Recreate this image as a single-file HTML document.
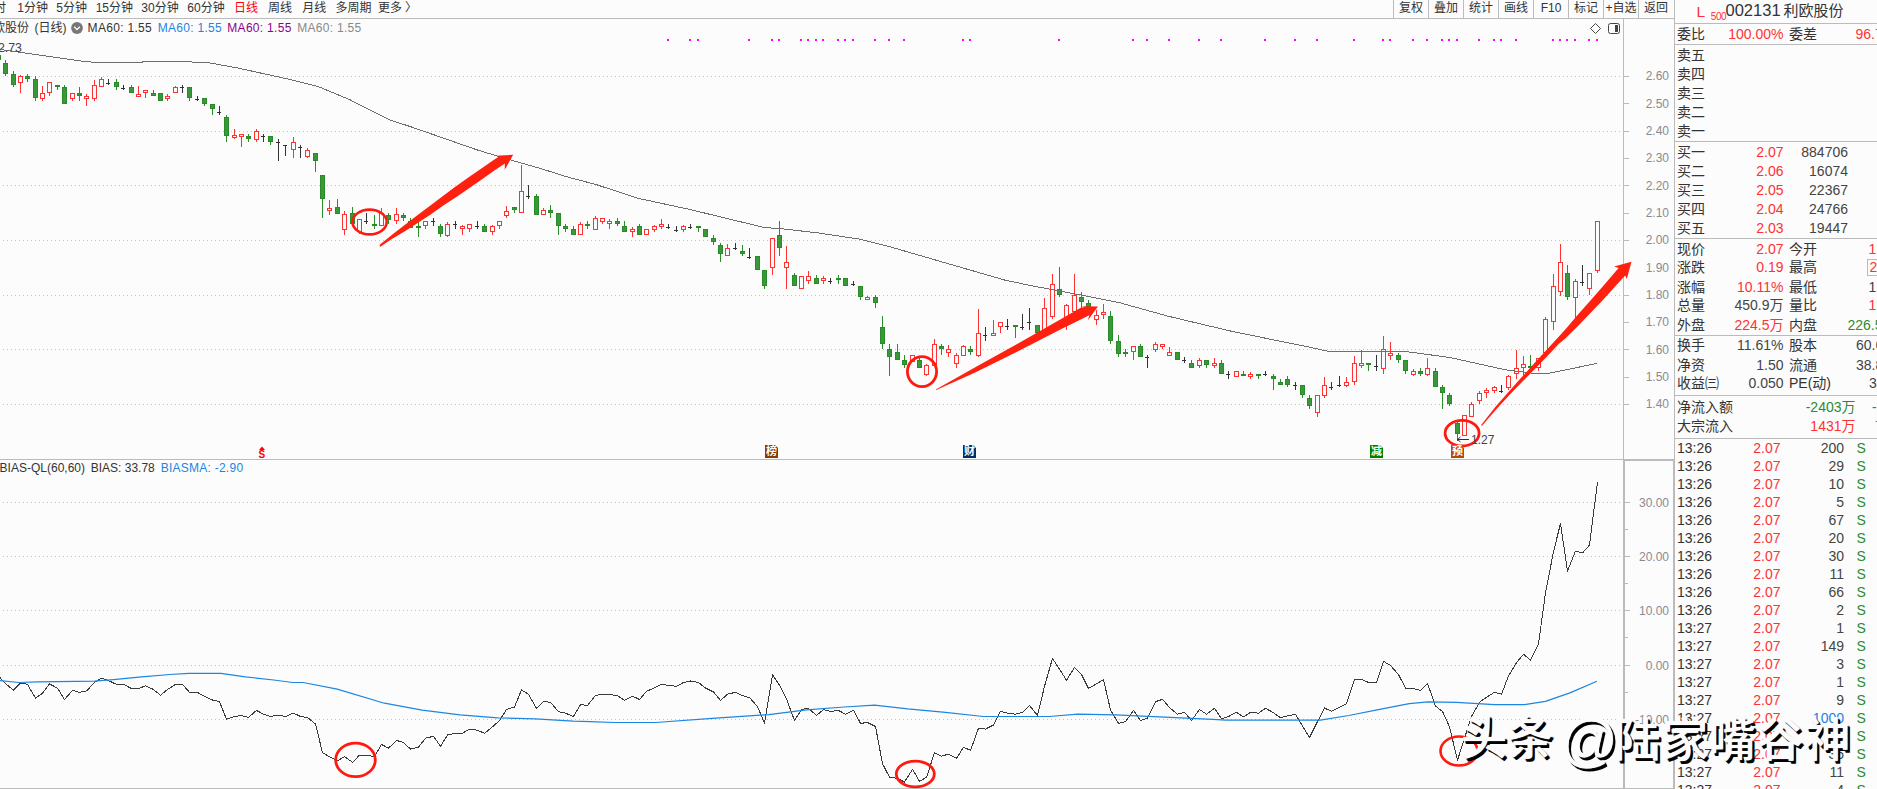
<!DOCTYPE html>
<html><head><meta charset="utf-8"><title>利欧股份 日线</title>
<style>
html,body{margin:0;padding:0;}
body{width:1877px;height:789px;overflow:hidden;background:#fcfcfc;position:relative;font-family:"Liberation Sans","Noto Sans CJK SC",sans-serif;color:#333;}
.t{position:absolute;white-space:nowrap;line-height:1;}
.f12{font-size:12px;}
.f14{font-size:14px;}
.r{color:#ff3232;}
.g{color:#2e8b2e;}
.b{color:#1c7fe0;}
.num{color:#444;}
.ra{text-align:right;}
.vl{position:absolute;background:#bbbbbb;}
.ic{position:absolute;width:13px;height:13px;clip-path:polygon(0 0,10px 0,13px 3px,13px 13px,0 13px);font-weight:bold;color:#fff;font-size:11px;line-height:13px;text-align:center;overflow:hidden;}
</style></head><body>

<svg width="1674" height="789" viewBox="0 0 1674 789" style="position:absolute;left:0;top:0"><line x1="3" y1="76.5" x2="1624" y2="76.5" stroke="#c4c4c4" stroke-width="1" stroke-dasharray="1 3"/>
<line x1="3" y1="131.5" x2="1624" y2="131.5" stroke="#c4c4c4" stroke-width="1" stroke-dasharray="1 3"/>
<line x1="3" y1="185.5" x2="1624" y2="185.5" stroke="#c4c4c4" stroke-width="1" stroke-dasharray="1 3"/>
<line x1="3" y1="240.5" x2="1624" y2="240.5" stroke="#c4c4c4" stroke-width="1" stroke-dasharray="1 3"/>
<line x1="3" y1="295.5" x2="1624" y2="295.5" stroke="#c4c4c4" stroke-width="1" stroke-dasharray="1 3"/>
<line x1="3" y1="349.5" x2="1624" y2="349.5" stroke="#c4c4c4" stroke-width="1" stroke-dasharray="1 3"/>
<line x1="3" y1="404.5" x2="1624" y2="404.5" stroke="#c4c4c4" stroke-width="1" stroke-dasharray="1 3"/>
<line x1="3" y1="502.5" x2="1624" y2="502.5" stroke="#c4c4c4" stroke-width="1" stroke-dasharray="1 3"/>
<line x1="3" y1="556.5" x2="1624" y2="556.5" stroke="#c4c4c4" stroke-width="1" stroke-dasharray="1 3"/>
<line x1="3" y1="610.5" x2="1624" y2="610.5" stroke="#c4c4c4" stroke-width="1" stroke-dasharray="1 3"/>
<line x1="3" y1="665.5" x2="1624" y2="665.5" stroke="#c4c4c4" stroke-width="1" stroke-dasharray="1 3"/>
<line x1="3" y1="719.5" x2="1624" y2="719.5" stroke="#c4c4c4" stroke-width="1" stroke-dasharray="1 3"/>
<g shape-rendering="crispEdges"><rect x="-2" y="53" width="1" height="7" fill="#2a8e2a"/><rect x="-4" y="55" width="5" height="5" fill="#278c27"/><rect x="-3" y="56" width="3" height="3" fill="#3a973a"/><rect x="5" y="60" width="1" height="16" fill="#2a8e2a"/><rect x="3" y="63" width="5" height="11" fill="#278c27"/><rect x="4" y="64" width="3" height="9" fill="#3a973a"/><rect x="13" y="71" width="1" height="16" fill="#2a8e2a"/><rect x="11" y="74" width="5" height="11" fill="#278c27"/><rect x="12" y="75" width="3" height="9" fill="#3a973a"/><rect x="20" y="75" width="1" height="18" fill="#ff3232"/><rect x="18.5" y="76.5" width="4" height="6" fill="#fcfcfc" stroke="#ff3232" stroke-width="1"/><rect x="27" y="74" width="1" height="8" fill="#2a8e2a"/><rect x="25" y="76" width="5" height="3" fill="#278c27"/><rect x="26" y="77" width="3" height="1" fill="#3a973a"/><rect x="35" y="76" width="1" height="25" fill="#2a8e2a"/><rect x="33" y="79" width="5" height="19" fill="#278c27"/><rect x="34" y="80" width="3" height="17" fill="#3a973a"/><rect x="42" y="86" width="1" height="15" fill="#ff3232"/><rect x="40.5" y="93.5" width="4" height="5" fill="#fcfcfc" stroke="#ff3232" stroke-width="1"/><rect x="49" y="82" width="1" height="14" fill="#ff3232"/><rect x="47.5" y="82.5" width="4" height="10" fill="#fcfcfc" stroke="#ff3232" stroke-width="1"/><rect x="57" y="85" width="1" height="5" fill="#2a8e2a"/><rect x="55" y="85" width="5" height="2" fill="#278c27"/><rect x="64" y="85" width="1" height="19" fill="#2a8e2a"/><rect x="62" y="87" width="5" height="17" fill="#278c27"/><rect x="63" y="88" width="3" height="15" fill="#3a973a"/><rect x="72" y="93" width="1" height="8" fill="#ff3232"/><rect x="70.5" y="93.5" width="4" height="5" fill="#fcfcfc" stroke="#ff3232" stroke-width="1"/><rect x="79" y="87" width="1" height="14" fill="#2a8e2a"/><rect x="77" y="93" width="5" height="3" fill="#278c27"/><rect x="78" y="94" width="3" height="1" fill="#3a973a"/><rect x="86" y="94" width="1" height="12" fill="#ff3232"/><rect x="84.5" y="96.5" width="4" height="2" fill="#fcfcfc" stroke="#ff3232" stroke-width="1"/><rect x="94" y="80" width="1" height="21" fill="#ff3232"/><rect x="92.5" y="85.5" width="4" height="13" fill="#fcfcfc" stroke="#ff3232" stroke-width="1"/><rect x="101" y="77" width="1" height="10" fill="#ff3232"/><rect x="99.5" y="79.5" width="4" height="7" fill="#fcfcfc" stroke="#ff3232" stroke-width="1"/><rect x="108" y="79" width="1" height="6" fill="#333333"/><rect x="106" y="83" width="4" height="1" fill="#333333"/><rect x="116" y="79" width="1" height="11" fill="#2a8e2a"/><rect x="114" y="82" width="5" height="5" fill="#278c27"/><rect x="115" y="83" width="3" height="3" fill="#3a973a"/><rect x="123" y="85" width="1" height="5" fill="#333333"/><rect x="121" y="88" width="4" height="1" fill="#333333"/><rect x="131" y="85" width="1" height="8" fill="#2a8e2a"/><rect x="129" y="87" width="5" height="6" fill="#278c27"/><rect x="130" y="88" width="3" height="4" fill="#3a973a"/><rect x="138" y="86" width="1" height="10" fill="#ff3232"/><rect x="136.5" y="94.5" width="4" height="2" fill="#fcfcfc" stroke="#ff3232" stroke-width="1"/><rect x="145" y="90" width="1" height="8" fill="#ff3232"/><rect x="143.5" y="90.5" width="4" height="2" fill="#fcfcfc" stroke="#ff3232" stroke-width="1"/><rect x="153" y="90" width="1" height="6" fill="#2a8e2a"/><rect x="151" y="93" width="5" height="3" fill="#278c27"/><rect x="152" y="94" width="3" height="1" fill="#3a973a"/><rect x="160" y="93" width="1" height="8" fill="#2a8e2a"/><rect x="158" y="93" width="5" height="8" fill="#278c27"/><rect x="159" y="94" width="3" height="6" fill="#3a973a"/><rect x="167" y="94" width="1" height="7" fill="#ff3232"/><rect x="165.5" y="96.5" width="4" height="2" fill="#fcfcfc" stroke="#ff3232" stroke-width="1"/><rect x="175" y="86" width="1" height="7" fill="#ff3232"/><rect x="173.5" y="87.5" width="4" height="5" fill="#fcfcfc" stroke="#ff3232" stroke-width="1"/><rect x="182" y="85" width="1" height="8" fill="#333333"/><rect x="180" y="87" width="4" height="1" fill="#333333"/><rect x="189" y="87" width="1" height="14" fill="#2a8e2a"/><rect x="187" y="87" width="5" height="11" fill="#278c27"/><rect x="188" y="88" width="3" height="9" fill="#3a973a"/><rect x="197" y="96" width="1" height="5" fill="#333333"/><rect x="195" y="99" width="4" height="1" fill="#333333"/><rect x="204" y="98" width="1" height="8" fill="#2a8e2a"/><rect x="202" y="98" width="5" height="6" fill="#278c27"/><rect x="203" y="99" width="3" height="4" fill="#3a973a"/><rect x="212" y="104" width="1" height="11" fill="#2a8e2a"/><rect x="210" y="104" width="5" height="5" fill="#278c27"/><rect x="211" y="105" width="3" height="3" fill="#3a973a"/><rect x="219" y="106" width="1" height="9" fill="#333333"/><rect x="217" y="112" width="4" height="1" fill="#333333"/><rect x="226" y="115" width="1" height="27" fill="#2a8e2a"/><rect x="224" y="117" width="5" height="19" fill="#278c27"/><rect x="225" y="118" width="3" height="17" fill="#3a973a"/><rect x="234" y="129" width="1" height="10" fill="#ff3232"/><rect x="232.5" y="135.5" width="4" height="2" fill="#fcfcfc" stroke="#ff3232" stroke-width="1"/><rect x="241" y="134" width="1" height="13" fill="#ff3232"/><rect x="239.5" y="134.5" width="4" height="2" fill="#fcfcfc" stroke="#ff3232" stroke-width="1"/><rect x="248" y="134" width="1" height="8" fill="#2a8e2a"/><rect x="246" y="136" width="5" height="3" fill="#278c27"/><rect x="247" y="137" width="3" height="1" fill="#3a973a"/><rect x="256" y="129" width="1" height="13" fill="#ff3232"/><rect x="254.5" y="131.5" width="4" height="8" fill="#fcfcfc" stroke="#ff3232" stroke-width="1"/><rect x="263" y="134" width="1" height="8" fill="#333333"/><rect x="261" y="136" width="4" height="1" fill="#333333"/><rect x="270" y="136" width="1" height="9" fill="#2a8e2a"/><rect x="268" y="136" width="5" height="6" fill="#278c27"/><rect x="269" y="137" width="3" height="4" fill="#3a973a"/><rect x="278" y="139" width="1" height="22" fill="#333333"/><rect x="276" y="142" width="4" height="1" fill="#333333"/><rect x="285" y="145" width="1" height="11" fill="#333333"/><rect x="283" y="145" width="4" height="1" fill="#333333"/><rect x="293" y="137" width="1" height="21" fill="#ff3232"/><rect x="291.5" y="142.5" width="4" height="7" fill="#fcfcfc" stroke="#ff3232" stroke-width="1"/><rect x="300" y="145" width="1" height="13" fill="#333333"/><rect x="298" y="147" width="4" height="1" fill="#333333"/><rect x="307" y="148" width="1" height="10" fill="#ff3232"/><rect x="305.5" y="150.5" width="4" height="6" fill="#fcfcfc" stroke="#ff3232" stroke-width="1"/><rect x="315" y="153" width="1" height="19" fill="#2a8e2a"/><rect x="313" y="153" width="5" height="8" fill="#278c27"/><rect x="314" y="154" width="3" height="6" fill="#3a973a"/><rect x="322" y="175" width="1" height="43" fill="#2a8e2a"/><rect x="320" y="175" width="5" height="24" fill="#278c27"/><rect x="321" y="176" width="3" height="22" fill="#3a973a"/><rect x="329" y="200" width="1" height="15" fill="#ff3232"/><rect x="327.5" y="208.5" width="4" height="2" fill="#fcfcfc" stroke="#ff3232" stroke-width="1"/><rect x="337" y="199" width="1" height="15" fill="#2a8e2a"/><rect x="335" y="207" width="5" height="7" fill="#278c27"/><rect x="336" y="208" width="3" height="5" fill="#3a973a"/><rect x="344" y="211" width="1" height="24" fill="#ff3232"/><rect x="342.5" y="214.5" width="4" height="15" fill="#fcfcfc" stroke="#ff3232" stroke-width="1"/><rect x="352" y="207" width="1" height="17" fill="#2a8e2a"/><rect x="350" y="213" width="5" height="11" fill="#278c27"/><rect x="351" y="214" width="3" height="9" fill="#3a973a"/><rect x="359" y="219" width="1" height="15" fill="#ff3232"/><rect x="357.5" y="219.5" width="4" height="12" fill="#fcfcfc" stroke="#ff3232" stroke-width="1"/><rect x="366" y="213" width="1" height="11" fill="#333333"/><rect x="364" y="221" width="4" height="1" fill="#333333"/><rect x="374" y="215" width="1" height="14" fill="#2a8e2a"/><rect x="372" y="224" width="5" height="2" fill="#278c27"/><rect x="381" y="208" width="1" height="18" fill="#ff3232"/><rect x="379.5" y="213.5" width="4" height="12" fill="#fcfcfc" stroke="#ff3232" stroke-width="1"/><rect x="388" y="213" width="1" height="11" fill="#2a8e2a"/><rect x="386" y="215" width="5" height="5" fill="#278c27"/><rect x="387" y="216" width="3" height="3" fill="#3a973a"/><rect x="396" y="208" width="1" height="16" fill="#ff3232"/><rect x="394.5" y="214.5" width="4" height="6" fill="#fcfcfc" stroke="#ff3232" stroke-width="1"/><rect x="403" y="213" width="1" height="8" fill="#2a8e2a"/><rect x="401" y="215" width="5" height="3" fill="#278c27"/><rect x="402" y="216" width="3" height="1" fill="#3a973a"/><rect x="410" y="218" width="1" height="10" fill="#2a8e2a"/><rect x="408" y="221" width="5" height="7" fill="#278c27"/><rect x="409" y="222" width="3" height="5" fill="#3a973a"/><rect x="418" y="221" width="1" height="16" fill="#2a8e2a"/><rect x="416" y="226" width="5" height="2" fill="#278c27"/><rect x="425" y="221" width="1" height="8" fill="#ff3232"/><rect x="423.5" y="221.5" width="4" height="4" fill="#fcfcfc" stroke="#ff3232" stroke-width="1"/><rect x="433" y="218" width="1" height="8" fill="#333333"/><rect x="431" y="221" width="4" height="1" fill="#333333"/><rect x="440" y="224" width="1" height="13" fill="#2a8e2a"/><rect x="438" y="226" width="5" height="8" fill="#278c27"/><rect x="439" y="227" width="3" height="6" fill="#3a973a"/><rect x="447" y="222" width="1" height="15" fill="#ff3232"/><rect x="445.5" y="224.5" width="4" height="11" fill="#fcfcfc" stroke="#ff3232" stroke-width="1"/><rect x="455" y="221" width="1" height="8" fill="#333333"/><rect x="453" y="224" width="4" height="1" fill="#333333"/><rect x="462" y="225" width="1" height="10" fill="#ff3232"/><rect x="460.5" y="226.5" width="4" height="2" fill="#fcfcfc" stroke="#ff3232" stroke-width="1"/><rect x="469" y="224" width="1" height="8" fill="#ff3232"/><rect x="467.5" y="224.5" width="4" height="4" fill="#fcfcfc" stroke="#ff3232" stroke-width="1"/><rect x="477" y="221" width="1" height="8" fill="#333333"/><rect x="475" y="226" width="4" height="1" fill="#333333"/><rect x="484" y="224" width="1" height="8" fill="#2a8e2a"/><rect x="482" y="226" width="5" height="6" fill="#278c27"/><rect x="483" y="227" width="3" height="4" fill="#3a973a"/><rect x="492" y="225" width="1" height="10" fill="#ff3232"/><rect x="490.5" y="226.5" width="4" height="5" fill="#fcfcfc" stroke="#ff3232" stroke-width="1"/><rect x="499" y="221" width="1" height="8" fill="#ff3232"/><rect x="497.5" y="221.5" width="4" height="4" fill="#fcfcfc" stroke="#ff3232" stroke-width="1"/><rect x="506" y="206" width="1" height="12" fill="#ff3232"/><rect x="504.5" y="211.5" width="4" height="4" fill="#fcfcfc" stroke="#ff3232" stroke-width="1"/><rect x="514" y="207" width="1" height="6" fill="#2a8e2a"/><rect x="512" y="207" width="5" height="3" fill="#278c27"/><rect x="513" y="208" width="3" height="1" fill="#3a973a"/><rect x="521" y="165" width="1" height="48" fill="#ff3232"/><rect x="519.5" y="191.5" width="4" height="21" fill="#fcfcfc" stroke="#ff3232" stroke-width="1"/><rect x="528" y="185" width="1" height="14" fill="#333333"/><rect x="526" y="196" width="4" height="1" fill="#333333"/><rect x="536" y="194" width="1" height="21" fill="#2a8e2a"/><rect x="534" y="196" width="5" height="19" fill="#278c27"/><rect x="535" y="197" width="3" height="17" fill="#3a973a"/><rect x="543" y="208" width="1" height="7" fill="#ff3232"/><rect x="541.5" y="210.5" width="4" height="4" fill="#fcfcfc" stroke="#ff3232" stroke-width="1"/><rect x="550" y="205" width="1" height="13" fill="#2a8e2a"/><rect x="548" y="210" width="5" height="3" fill="#278c27"/><rect x="549" y="211" width="3" height="1" fill="#3a973a"/><rect x="558" y="213" width="1" height="22" fill="#2a8e2a"/><rect x="556" y="213" width="5" height="13" fill="#278c27"/><rect x="557" y="214" width="3" height="11" fill="#3a973a"/><rect x="565" y="224" width="1" height="8" fill="#2a8e2a"/><rect x="563" y="226" width="5" height="3" fill="#278c27"/><rect x="564" y="227" width="3" height="1" fill="#3a973a"/><rect x="573" y="226" width="1" height="9" fill="#2a8e2a"/><rect x="571" y="229" width="5" height="6" fill="#278c27"/><rect x="572" y="230" width="3" height="4" fill="#3a973a"/><rect x="580" y="222" width="1" height="13" fill="#ff3232"/><rect x="578.5" y="224.5" width="4" height="10" fill="#fcfcfc" stroke="#ff3232" stroke-width="1"/><rect x="587" y="221" width="1" height="8" fill="#2a8e2a"/><rect x="585" y="224" width="5" height="2" fill="#278c27"/><rect x="595" y="216" width="1" height="14" fill="#ff3232"/><rect x="593.5" y="218.5" width="4" height="11" fill="#fcfcfc" stroke="#ff3232" stroke-width="1"/><rect x="602" y="218" width="1" height="6" fill="#ff3232"/><rect x="600.5" y="218.5" width="4" height="3" fill="#fcfcfc" stroke="#ff3232" stroke-width="1"/><rect x="609" y="219" width="1" height="10" fill="#ff3232"/><rect x="607.5" y="221.5" width="4" height="2" fill="#fcfcfc" stroke="#ff3232" stroke-width="1"/><rect x="617" y="218" width="1" height="8" fill="#2a8e2a"/><rect x="615" y="221" width="5" height="3" fill="#278c27"/><rect x="616" y="222" width="3" height="1" fill="#3a973a"/><rect x="624" y="221" width="1" height="11" fill="#2a8e2a"/><rect x="622" y="226" width="5" height="6" fill="#278c27"/><rect x="623" y="227" width="3" height="4" fill="#3a973a"/><rect x="632" y="227" width="1" height="10" fill="#ff3232"/><rect x="630.5" y="229.5" width="4" height="2" fill="#fcfcfc" stroke="#ff3232" stroke-width="1"/><rect x="639" y="224" width="1" height="11" fill="#2a8e2a"/><rect x="637" y="226" width="5" height="9" fill="#278c27"/><rect x="638" y="227" width="3" height="7" fill="#3a973a"/><rect x="646" y="229" width="1" height="6" fill="#ff3232"/><rect x="644.5" y="229.5" width="4" height="5" fill="#fcfcfc" stroke="#ff3232" stroke-width="1"/><rect x="654" y="225" width="1" height="7" fill="#ff3232"/><rect x="652.5" y="226.5" width="4" height="3" fill="#fcfcfc" stroke="#ff3232" stroke-width="1"/><rect x="661" y="219" width="1" height="10" fill="#ff3232"/><rect x="659.5" y="224.5" width="4" height="2" fill="#fcfcfc" stroke="#ff3232" stroke-width="1"/><rect x="668" y="224" width="1" height="5" fill="#333333"/><rect x="666" y="227" width="4" height="1" fill="#333333"/><rect x="676" y="226" width="1" height="6" fill="#333333"/><rect x="674" y="230" width="4" height="1" fill="#333333"/><rect x="683" y="225" width="1" height="7" fill="#ff3232"/><rect x="681.5" y="226.5" width="4" height="3" fill="#fcfcfc" stroke="#ff3232" stroke-width="1"/><rect x="690" y="224" width="1" height="5" fill="#333333"/><rect x="688" y="227" width="4" height="1" fill="#333333"/><rect x="698" y="226" width="1" height="6" fill="#2a8e2a"/><rect x="696" y="226" width="5" height="2" fill="#278c27"/><rect x="705" y="229" width="1" height="8" fill="#2a8e2a"/><rect x="703" y="229" width="5" height="8" fill="#278c27"/><rect x="704" y="230" width="3" height="6" fill="#3a973a"/><rect x="713" y="235" width="1" height="10" fill="#2a8e2a"/><rect x="711" y="238" width="5" height="4" fill="#278c27"/><rect x="712" y="239" width="3" height="2" fill="#3a973a"/><rect x="720" y="243" width="1" height="19" fill="#2a8e2a"/><rect x="718" y="245" width="5" height="9" fill="#278c27"/><rect x="719" y="246" width="3" height="7" fill="#3a973a"/><rect x="727" y="244" width="1" height="12" fill="#ff3232"/><rect x="725.5" y="248.5" width="4" height="7" fill="#fcfcfc" stroke="#ff3232" stroke-width="1"/><rect x="735" y="243" width="1" height="7" fill="#333333"/><rect x="733" y="248" width="4" height="1" fill="#333333"/><rect x="742" y="245" width="1" height="11" fill="#2a8e2a"/><rect x="740" y="251" width="5" height="3" fill="#278c27"/><rect x="741" y="252" width="3" height="1" fill="#3a973a"/><rect x="749" y="248" width="1" height="11" fill="#333333"/><rect x="747" y="257" width="4" height="1" fill="#333333"/><rect x="757" y="256" width="1" height="14" fill="#2a8e2a"/><rect x="755" y="256" width="5" height="14" fill="#278c27"/><rect x="756" y="257" width="3" height="12" fill="#3a973a"/><rect x="764" y="270" width="1" height="19" fill="#2a8e2a"/><rect x="762" y="270" width="5" height="16" fill="#278c27"/><rect x="763" y="271" width="3" height="14" fill="#3a973a"/><rect x="772" y="238" width="1" height="37" fill="#ff3232"/><rect x="770.5" y="238.5" width="4" height="29" fill="#fcfcfc" stroke="#ff3232" stroke-width="1"/><rect x="779" y="221" width="1" height="35" fill="#2a8e2a"/><rect x="777" y="235" width="5" height="13" fill="#278c27"/><rect x="778" y="236" width="3" height="11" fill="#3a973a"/><rect x="786" y="246" width="1" height="43" fill="#ff3232"/><rect x="784.5" y="262.5" width="4" height="5" fill="#fcfcfc" stroke="#ff3232" stroke-width="1"/><rect x="794" y="273" width="1" height="13" fill="#2a8e2a"/><rect x="792" y="275" width="5" height="11" fill="#278c27"/><rect x="793" y="276" width="3" height="9" fill="#3a973a"/><rect x="801" y="276" width="1" height="13" fill="#ff3232"/><rect x="799.5" y="276.5" width="4" height="12" fill="#fcfcfc" stroke="#ff3232" stroke-width="1"/><rect x="808" y="271" width="1" height="13" fill="#ff3232"/><rect x="806.5" y="276.5" width="4" height="4" fill="#fcfcfc" stroke="#ff3232" stroke-width="1"/><rect x="816" y="275" width="1" height="9" fill="#2a8e2a"/><rect x="814" y="278" width="5" height="6" fill="#278c27"/><rect x="815" y="279" width="3" height="4" fill="#3a973a"/><rect x="823" y="276" width="1" height="8" fill="#ff3232"/><rect x="821.5" y="278.5" width="4" height="2" fill="#fcfcfc" stroke="#ff3232" stroke-width="1"/><rect x="830" y="278" width="1" height="6" fill="#333333"/><rect x="828" y="281" width="4" height="1" fill="#333333"/><rect x="838" y="275" width="1" height="9" fill="#2a8e2a"/><rect x="836" y="278" width="5" height="2" fill="#278c27"/><rect x="845" y="278" width="1" height="8" fill="#2a8e2a"/><rect x="843" y="278" width="5" height="8" fill="#278c27"/><rect x="844" y="279" width="3" height="6" fill="#3a973a"/><rect x="853" y="281" width="1" height="5" fill="#333333"/><rect x="851" y="284" width="4" height="1" fill="#333333"/><rect x="860" y="286" width="1" height="14" fill="#2a8e2a"/><rect x="858" y="286" width="5" height="11" fill="#278c27"/><rect x="859" y="287" width="3" height="9" fill="#3a973a"/><rect x="867" y="296" width="1" height="4" fill="#ff3232"/><rect x="865.5" y="297.5" width="4" height="2" fill="#fcfcfc" stroke="#ff3232" stroke-width="1"/><rect x="875" y="295" width="1" height="13" fill="#2a8e2a"/><rect x="873" y="297" width="5" height="6" fill="#278c27"/><rect x="874" y="298" width="3" height="4" fill="#3a973a"/><rect x="882" y="316" width="1" height="33" fill="#2a8e2a"/><rect x="880" y="327" width="5" height="17" fill="#278c27"/><rect x="881" y="328" width="3" height="15" fill="#3a973a"/><rect x="889" y="344" width="1" height="32" fill="#2a8e2a"/><rect x="887" y="349" width="5" height="8" fill="#278c27"/><rect x="888" y="350" width="3" height="6" fill="#3a973a"/><rect x="897" y="344" width="1" height="16" fill="#2a8e2a"/><rect x="895" y="352" width="5" height="8" fill="#278c27"/><rect x="896" y="353" width="3" height="6" fill="#3a973a"/><rect x="904" y="355" width="1" height="13" fill="#2a8e2a"/><rect x="902" y="360" width="5" height="5" fill="#278c27"/><rect x="903" y="361" width="3" height="3" fill="#3a973a"/><rect x="912" y="355" width="1" height="7" fill="#ff3232"/><rect x="910.5" y="355.5" width="4" height="6" fill="#fcfcfc" stroke="#ff3232" stroke-width="1"/><rect x="919" y="358" width="1" height="10" fill="#2a8e2a"/><rect x="917" y="360" width="5" height="8" fill="#278c27"/><rect x="918" y="361" width="3" height="6" fill="#3a973a"/><rect x="926" y="364" width="1" height="12" fill="#ff3232"/><rect x="924.5" y="365.5" width="4" height="9" fill="#fcfcfc" stroke="#ff3232" stroke-width="1"/><rect x="934" y="339" width="1" height="27" fill="#ff3232"/><rect x="932.5" y="344.5" width="4" height="21" fill="#fcfcfc" stroke="#ff3232" stroke-width="1"/><rect x="941" y="344" width="1" height="11" fill="#2a8e2a"/><rect x="939" y="346" width="5" height="3" fill="#278c27"/><rect x="940" y="347" width="3" height="1" fill="#3a973a"/><rect x="948" y="345" width="1" height="12" fill="#ff3232"/><rect x="946.5" y="349.5" width="4" height="3" fill="#fcfcfc" stroke="#ff3232" stroke-width="1"/><rect x="956" y="353" width="1" height="15" fill="#ff3232"/><rect x="954.5" y="355.5" width="4" height="8" fill="#fcfcfc" stroke="#ff3232" stroke-width="1"/><rect x="963" y="345" width="1" height="11" fill="#ff3232"/><rect x="961.5" y="346.5" width="4" height="9" fill="#fcfcfc" stroke="#ff3232" stroke-width="1"/><rect x="970" y="346" width="1" height="9" fill="#2a8e2a"/><rect x="968" y="349" width="5" height="3" fill="#278c27"/><rect x="969" y="350" width="3" height="1" fill="#3a973a"/><rect x="978" y="309" width="1" height="48" fill="#ff3232"/><rect x="976.5" y="333.5" width="4" height="22" fill="#fcfcfc" stroke="#ff3232" stroke-width="1"/><rect x="985" y="327" width="1" height="14" fill="#333333"/><rect x="983" y="335" width="4" height="1" fill="#333333"/><rect x="993" y="320" width="1" height="16" fill="#ff3232"/><rect x="991.5" y="333.5" width="4" height="2" fill="#fcfcfc" stroke="#ff3232" stroke-width="1"/><rect x="1000" y="322" width="1" height="11" fill="#ff3232"/><rect x="998.5" y="322.5" width="4" height="4" fill="#fcfcfc" stroke="#ff3232" stroke-width="1"/><rect x="1007" y="319" width="1" height="11" fill="#333333"/><rect x="1005" y="326" width="4" height="1" fill="#333333"/><rect x="1015" y="325" width="1" height="13" fill="#2a8e2a"/><rect x="1013" y="325" width="5" height="2" fill="#278c27"/><rect x="1022" y="314" width="1" height="16" fill="#333333"/><rect x="1020" y="327" width="4" height="1" fill="#333333"/><rect x="1029" y="308" width="1" height="22" fill="#333333"/><rect x="1027" y="322" width="4" height="1" fill="#333333"/><rect x="1037" y="325" width="1" height="8" fill="#2a8e2a"/><rect x="1035" y="325" width="5" height="8" fill="#278c27"/><rect x="1036" y="326" width="3" height="6" fill="#3a973a"/><rect x="1044" y="298" width="1" height="33" fill="#ff3232"/><rect x="1042.5" y="308.5" width="4" height="22" fill="#fcfcfc" stroke="#ff3232" stroke-width="1"/><rect x="1052" y="274" width="1" height="45" fill="#ff3232"/><rect x="1050.5" y="284.5" width="4" height="32" fill="#fcfcfc" stroke="#ff3232" stroke-width="1"/><rect x="1059" y="267" width="1" height="30" fill="#2a8e2a"/><rect x="1057" y="289" width="5" height="6" fill="#278c27"/><rect x="1058" y="290" width="3" height="4" fill="#3a973a"/><rect x="1066" y="304" width="1" height="26" fill="#ff3232"/><rect x="1064.5" y="305.5" width="4" height="19" fill="#fcfcfc" stroke="#ff3232" stroke-width="1"/><rect x="1074" y="274" width="1" height="39" fill="#ff3232"/><rect x="1072.5" y="295.5" width="4" height="16" fill="#fcfcfc" stroke="#ff3232" stroke-width="1"/><rect x="1081" y="292" width="1" height="18" fill="#2a8e2a"/><rect x="1079" y="297" width="5" height="5" fill="#278c27"/><rect x="1080" y="298" width="3" height="3" fill="#3a973a"/><rect x="1088" y="300" width="1" height="8" fill="#2a8e2a"/><rect x="1086" y="303" width="5" height="5" fill="#278c27"/><rect x="1087" y="304" width="3" height="3" fill="#3a973a"/><rect x="1096" y="310" width="1" height="15" fill="#ff3232"/><rect x="1094.5" y="315.5" width="4" height="4" fill="#fcfcfc" stroke="#ff3232" stroke-width="1"/><rect x="1103" y="304" width="1" height="15" fill="#ff3232"/><rect x="1101.5" y="312.5" width="4" height="2" fill="#fcfcfc" stroke="#ff3232" stroke-width="1"/><rect x="1110" y="311" width="1" height="33" fill="#2a8e2a"/><rect x="1108" y="316" width="5" height="25" fill="#278c27"/><rect x="1109" y="317" width="3" height="23" fill="#3a973a"/><rect x="1118" y="335" width="1" height="22" fill="#2a8e2a"/><rect x="1116" y="341" width="5" height="13" fill="#278c27"/><rect x="1117" y="342" width="3" height="11" fill="#3a973a"/><rect x="1125" y="349" width="1" height="8" fill="#2a8e2a"/><rect x="1123" y="352" width="5" height="2" fill="#278c27"/><rect x="1133" y="346" width="1" height="14" fill="#ff3232"/><rect x="1131.5" y="346.5" width="4" height="5" fill="#fcfcfc" stroke="#ff3232" stroke-width="1"/><rect x="1140" y="344" width="1" height="13" fill="#2a8e2a"/><rect x="1138" y="346" width="5" height="11" fill="#278c27"/><rect x="1139" y="347" width="3" height="9" fill="#3a973a"/><rect x="1147" y="355" width="1" height="13" fill="#333333"/><rect x="1145" y="357" width="4" height="1" fill="#333333"/><rect x="1155" y="342" width="1" height="10" fill="#ff3232"/><rect x="1153.5" y="344.5" width="4" height="5" fill="#fcfcfc" stroke="#ff3232" stroke-width="1"/><rect x="1162" y="344" width="1" height="5" fill="#ff3232"/><rect x="1160.5" y="344.5" width="4" height="2" fill="#fcfcfc" stroke="#ff3232" stroke-width="1"/><rect x="1169" y="347" width="1" height="9" fill="#ff3232"/><rect x="1167.5" y="352.5" width="4" height="3" fill="#fcfcfc" stroke="#ff3232" stroke-width="1"/><rect x="1177" y="352" width="1" height="8" fill="#2a8e2a"/><rect x="1175" y="352" width="5" height="8" fill="#278c27"/><rect x="1176" y="353" width="3" height="6" fill="#3a973a"/><rect x="1184" y="357" width="1" height="6" fill="#333333"/><rect x="1182" y="360" width="4" height="1" fill="#333333"/><rect x="1191" y="360" width="1" height="8" fill="#2a8e2a"/><rect x="1189" y="363" width="5" height="5" fill="#278c27"/><rect x="1190" y="364" width="3" height="3" fill="#3a973a"/><rect x="1199" y="358" width="1" height="10" fill="#ff3232"/><rect x="1197.5" y="360.5" width="4" height="5" fill="#fcfcfc" stroke="#ff3232" stroke-width="1"/><rect x="1206" y="360" width="1" height="8" fill="#2a8e2a"/><rect x="1204" y="360" width="5" height="5" fill="#278c27"/><rect x="1205" y="361" width="3" height="3" fill="#3a973a"/><rect x="1214" y="358" width="1" height="10" fill="#ff3232"/><rect x="1212.5" y="363.5" width="4" height="2" fill="#fcfcfc" stroke="#ff3232" stroke-width="1"/><rect x="1221" y="360" width="1" height="14" fill="#2a8e2a"/><rect x="1219" y="363" width="5" height="11" fill="#278c27"/><rect x="1220" y="364" width="3" height="9" fill="#3a973a"/><rect x="1228" y="371" width="1" height="8" fill="#333333"/><rect x="1226" y="374" width="4" height="1" fill="#333333"/><rect x="1236" y="371" width="1" height="6" fill="#ff3232"/><rect x="1234.5" y="371.5" width="4" height="5" fill="#fcfcfc" stroke="#ff3232" stroke-width="1"/><rect x="1243" y="371" width="1" height="5" fill="#2a8e2a"/><rect x="1241" y="374" width="5" height="2" fill="#278c27"/><rect x="1250" y="372" width="1" height="7" fill="#ff3232"/><rect x="1248.5" y="374.5" width="4" height="2" fill="#fcfcfc" stroke="#ff3232" stroke-width="1"/><rect x="1258" y="374" width="1" height="5" fill="#2a8e2a"/><rect x="1256" y="374" width="5" height="2" fill="#278c27"/><rect x="1265" y="371" width="1" height="5" fill="#333333"/><rect x="1263" y="374" width="4" height="1" fill="#333333"/><rect x="1273" y="374" width="1" height="16" fill="#2a8e2a"/><rect x="1271" y="376" width="5" height="3" fill="#278c27"/><rect x="1272" y="377" width="3" height="1" fill="#3a973a"/><rect x="1280" y="379" width="1" height="6" fill="#2a8e2a"/><rect x="1278" y="382" width="5" height="3" fill="#278c27"/><rect x="1279" y="383" width="3" height="1" fill="#3a973a"/><rect x="1287" y="376" width="1" height="11" fill="#2a8e2a"/><rect x="1285" y="379" width="5" height="6" fill="#278c27"/><rect x="1286" y="380" width="3" height="4" fill="#3a973a"/><rect x="1295" y="382" width="1" height="8" fill="#333333"/><rect x="1293" y="385" width="4" height="1" fill="#333333"/><rect x="1302" y="385" width="1" height="13" fill="#2a8e2a"/><rect x="1300" y="385" width="5" height="10" fill="#278c27"/><rect x="1301" y="386" width="3" height="8" fill="#3a973a"/><rect x="1309" y="395" width="1" height="14" fill="#2a8e2a"/><rect x="1307" y="398" width="5" height="8" fill="#278c27"/><rect x="1308" y="399" width="3" height="6" fill="#3a973a"/><rect x="1317" y="395" width="1" height="22" fill="#ff3232"/><rect x="1315.5" y="395.5" width="4" height="17" fill="#fcfcfc" stroke="#ff3232" stroke-width="1"/><rect x="1324" y="377" width="1" height="21" fill="#ff3232"/><rect x="1322.5" y="385.5" width="4" height="10" fill="#fcfcfc" stroke="#ff3232" stroke-width="1"/><rect x="1331" y="382" width="1" height="8" fill="#333333"/><rect x="1329" y="387" width="4" height="1" fill="#333333"/><rect x="1339" y="376" width="1" height="11" fill="#333333"/><rect x="1337" y="385" width="4" height="1" fill="#333333"/><rect x="1346" y="377" width="1" height="10" fill="#ff3232"/><rect x="1344.5" y="382.5" width="4" height="3" fill="#fcfcfc" stroke="#ff3232" stroke-width="1"/><rect x="1354" y="356" width="1" height="29" fill="#ff3232"/><rect x="1352.5" y="363.5" width="4" height="18" fill="#fcfcfc" stroke="#ff3232" stroke-width="1"/><rect x="1361" y="350" width="1" height="18" fill="#ff3232"/><rect x="1359.5" y="363.5" width="4" height="2" fill="#fcfcfc" stroke="#ff3232" stroke-width="1"/><rect x="1368" y="363" width="1" height="8" fill="#2a8e2a"/><rect x="1366" y="363" width="5" height="2" fill="#278c27"/><rect x="1376" y="355" width="1" height="16" fill="#333333"/><rect x="1374" y="366" width="4" height="1" fill="#333333"/><rect x="1383" y="336" width="1" height="38" fill="#ff3232"/><rect x="1381.5" y="349.5" width="4" height="19" fill="#fcfcfc" stroke="#ff3232" stroke-width="1"/><rect x="1390" y="342" width="1" height="18" fill="#ff3232"/><rect x="1388.5" y="353.5" width="4" height="2" fill="#fcfcfc" stroke="#ff3232" stroke-width="1"/><rect x="1398" y="353" width="1" height="10" fill="#2a8e2a"/><rect x="1396" y="355" width="5" height="5" fill="#278c27"/><rect x="1397" y="356" width="3" height="3" fill="#3a973a"/><rect x="1405" y="360" width="1" height="14" fill="#2a8e2a"/><rect x="1403" y="360" width="5" height="11" fill="#278c27"/><rect x="1404" y="361" width="3" height="9" fill="#3a973a"/><rect x="1413" y="369" width="1" height="7" fill="#ff3232"/><rect x="1411.5" y="371.5" width="4" height="3" fill="#fcfcfc" stroke="#ff3232" stroke-width="1"/><rect x="1420" y="368" width="1" height="8" fill="#2a8e2a"/><rect x="1418" y="371" width="5" height="3" fill="#278c27"/><rect x="1419" y="372" width="3" height="1" fill="#3a973a"/><rect x="1427" y="358" width="1" height="18" fill="#ff3232"/><rect x="1425.5" y="368.5" width="4" height="6" fill="#fcfcfc" stroke="#ff3232" stroke-width="1"/><rect x="1435" y="368" width="1" height="19" fill="#2a8e2a"/><rect x="1433" y="371" width="5" height="16" fill="#278c27"/><rect x="1434" y="372" width="3" height="14" fill="#3a973a"/><rect x="1442" y="385" width="1" height="24" fill="#2a8e2a"/><rect x="1440" y="387" width="5" height="6" fill="#278c27"/><rect x="1441" y="388" width="3" height="4" fill="#3a973a"/><rect x="1449" y="393" width="1" height="13" fill="#2a8e2a"/><rect x="1447" y="395" width="5" height="9" fill="#278c27"/><rect x="1448" y="396" width="3" height="7" fill="#3a973a"/><rect x="1457" y="421" width="1" height="20" fill="#2a8e2a"/><rect x="1455" y="423" width="5" height="11" fill="#278c27"/><rect x="1456" y="424" width="3" height="9" fill="#3a973a"/><rect x="1464" y="415" width="1" height="21" fill="#ff3232"/><rect x="1462.5" y="415.5" width="4" height="20" fill="#fcfcfc" stroke="#ff3232" stroke-width="1"/><rect x="1471" y="402" width="1" height="15" fill="#ff3232"/><rect x="1469.5" y="404.5" width="4" height="12" fill="#fcfcfc" stroke="#ff3232" stroke-width="1"/><rect x="1479" y="391" width="1" height="13" fill="#ff3232"/><rect x="1477.5" y="393.5" width="4" height="7" fill="#fcfcfc" stroke="#ff3232" stroke-width="1"/><rect x="1486" y="388" width="1" height="10" fill="#ff3232"/><rect x="1484.5" y="390.5" width="4" height="2" fill="#fcfcfc" stroke="#ff3232" stroke-width="1"/><rect x="1494" y="386" width="1" height="7" fill="#ff3232"/><rect x="1492.5" y="387.5" width="4" height="3" fill="#fcfcfc" stroke="#ff3232" stroke-width="1"/><rect x="1501" y="385" width="1" height="8" fill="#333333"/><rect x="1499" y="391" width="4" height="1" fill="#333333"/><rect x="1508" y="375" width="1" height="15" fill="#ff3232"/><rect x="1506.5" y="376.5" width="4" height="11" fill="#fcfcfc" stroke="#ff3232" stroke-width="1"/><rect x="1516" y="350" width="1" height="29" fill="#ff3232"/><rect x="1514.5" y="368.5" width="4" height="5" fill="#fcfcfc" stroke="#ff3232" stroke-width="1"/><rect x="1523" y="356" width="1" height="20" fill="#ff3232"/><rect x="1521.5" y="364.5" width="4" height="3" fill="#fcfcfc" stroke="#ff3232" stroke-width="1"/><rect x="1530" y="355" width="1" height="13" fill="#2a8e2a"/><rect x="1528" y="366" width="5" height="2" fill="#278c27"/><rect x="1538" y="358" width="1" height="13" fill="#ff3232"/><rect x="1536.5" y="358.5" width="4" height="9" fill="#fcfcfc" stroke="#ff3232" stroke-width="1"/><rect x="1545" y="317" width="1" height="36" fill="#ff3232"/><rect x="1543.5" y="319.5" width="4" height="33" fill="#fcfcfc" stroke="#ff3232" stroke-width="1"/><rect x="1553" y="274" width="1" height="56" fill="#ff3232"/><rect x="1551.5" y="286.5" width="4" height="35" fill="#fcfcfc" stroke="#ff3232" stroke-width="1"/><rect x="1560" y="244" width="1" height="52" fill="#ff3232"/><rect x="1558.5" y="262.5" width="4" height="29" fill="#fcfcfc" stroke="#ff3232" stroke-width="1"/><rect x="1567" y="265" width="1" height="35" fill="#2a8e2a"/><rect x="1565" y="273" width="5" height="24" fill="#278c27"/><rect x="1566" y="274" width="3" height="22" fill="#3a973a"/><rect x="1575" y="279" width="1" height="39" fill="#ff3232"/><rect x="1573.5" y="281.5" width="4" height="16" fill="#fcfcfc" stroke="#ff3232" stroke-width="1"/><rect x="1582" y="265" width="1" height="21" fill="#333333"/><rect x="1580" y="282" width="4" height="1" fill="#333333"/><rect x="1589" y="273" width="1" height="22" fill="#ff3232"/><rect x="1587.5" y="273.5" width="4" height="15" fill="#fcfcfc" stroke="#ff3232" stroke-width="1"/><rect x="1597" y="221" width="1" height="52" fill="#ff3232"/><rect x="1595.5" y="221.5" width="4" height="49" fill="#fcfcfc" stroke="#ff3232" stroke-width="1"/></g>
<polyline points="-1.0,49.3 17.0,51.9 83.0,61.3 98.0,62.6 141.7,62.6 142.8,61.8 186.5,61.8 208.0,62.6 238.7,68.2 292.3,80.0 317.9,86.4 349.8,99.7 390.0,120.0 409.2,126.2 477.4,150.0 510.7,160.0 542.6,169.1 563.9,176.0 595.9,184.5 638.5,198.4 690.0,209.5 764.6,227.6 780.6,228.6 817.9,232.9 860.5,239.3 890.0,246.8 1004.5,280.0 1030.0,285.4 1083.3,295.5 1120.6,303.0 1168.5,316.3 1230.0,330.9 1260.0,337.1 1302.6,345.7 1329.3,351.5 1409.2,352.0 1450.0,357.5 1505.4,369.8 1535.2,373.5 1548.0,373.5 1597.0,363.4" fill="none" stroke="#6e6e6e" stroke-width="1" shape-rendering="crispEdges"/>
<g shape-rendering="crispEdges"><rect x="667" y="39" width="2" height="2" fill="#ff00ff"/><rect x="689" y="39" width="2" height="2" fill="#ff00ff"/><rect x="697" y="39" width="2" height="2" fill="#ff00ff"/><rect x="748" y="39" width="2" height="2" fill="#ff00ff"/><rect x="771" y="39" width="2" height="2" fill="#ff00ff"/><rect x="778" y="39" width="2" height="2" fill="#ff00ff"/><rect x="800" y="39" width="2" height="2" fill="#ff00ff"/><rect x="807" y="39" width="2" height="2" fill="#ff00ff"/><rect x="815" y="39" width="2" height="2" fill="#ff00ff"/><rect x="822" y="39" width="2" height="2" fill="#ff00ff"/><rect x="837" y="39" width="2" height="2" fill="#ff00ff"/><rect x="844" y="39" width="2" height="2" fill="#ff00ff"/><rect x="852" y="39" width="2" height="2" fill="#ff00ff"/><rect x="874" y="39" width="2" height="2" fill="#ff00ff"/><rect x="888" y="39" width="2" height="2" fill="#ff00ff"/><rect x="903" y="39" width="2" height="2" fill="#ff00ff"/><rect x="962" y="39" width="2" height="2" fill="#ff00ff"/><rect x="969" y="39" width="2" height="2" fill="#ff00ff"/><rect x="1058" y="39" width="2" height="2" fill="#ff00ff"/><rect x="1132" y="39" width="2" height="2" fill="#ff00ff"/><rect x="1146" y="39" width="2" height="2" fill="#ff00ff"/><rect x="1168" y="39" width="2" height="2" fill="#ff00ff"/><rect x="1198" y="39" width="2" height="2" fill="#ff00ff"/><rect x="1220" y="39" width="2" height="2" fill="#ff00ff"/><rect x="1264" y="39" width="2" height="2" fill="#ff00ff"/><rect x="1294" y="39" width="2" height="2" fill="#ff00ff"/><rect x="1316" y="39" width="2" height="2" fill="#ff00ff"/><rect x="1353" y="39" width="2" height="2" fill="#ff00ff"/><rect x="1382" y="39" width="2" height="2" fill="#ff00ff"/><rect x="1389" y="39" width="2" height="2" fill="#ff00ff"/><rect x="1412" y="39" width="2" height="2" fill="#ff00ff"/><rect x="1426" y="39" width="2" height="2" fill="#ff00ff"/><rect x="1441" y="39" width="2" height="2" fill="#ff00ff"/><rect x="1448" y="39" width="2" height="2" fill="#ff00ff"/><rect x="1456" y="39" width="2" height="2" fill="#ff00ff"/><rect x="1478" y="39" width="2" height="2" fill="#ff00ff"/><rect x="1493" y="39" width="2" height="2" fill="#ff00ff"/><rect x="1500" y="39" width="2" height="2" fill="#ff00ff"/><rect x="1515" y="39" width="2" height="2" fill="#ff00ff"/><rect x="1552" y="39" width="2" height="2" fill="#ff00ff"/><rect x="1559" y="39" width="2" height="2" fill="#ff00ff"/><rect x="1566" y="39" width="2" height="2" fill="#ff00ff"/><rect x="1574" y="39" width="2" height="2" fill="#ff00ff"/><rect x="1588" y="39" width="2" height="2" fill="#ff00ff"/><rect x="1596" y="39" width="2" height="2" fill="#ff00ff"/></g>
<polyline points="-1.5,675.9 5.5,683.8 13.5,690.0 20.5,683.0 27.5,684.4 35.5,698.1 42.5,693.2 49.5,684.0 57.5,688.1 64.5,699.5 72.5,690.4 79.5,692.3 86.5,691.0 94.5,682.5 101.5,678.3 108.5,680.6 116.5,684.4 123.5,684.4 131.5,688.5 138.5,688.5 145.5,685.9 153.5,689.5 160.5,695.3 167.5,689.5 175.5,684.4 182.5,684.4 189.5,692.3 197.5,692.5 204.5,696.3 212.5,700.0 219.5,701.7 226.5,719.3 234.5,716.5 241.5,715.5 248.5,717.4 256.5,710.4 263.5,714.2 270.5,716.5 278.5,715.1 285.5,716.5 293.5,713.1 300.5,716.5 307.5,717.4 315.5,724.0 322.5,752.7 329.5,756.7 337.5,760.8 344.5,756.5 352.5,762.3 359.5,755.2 366.5,755.2 374.5,756.7 381.5,744.4 388.5,748.2 396.5,740.4 403.5,742.5 410.5,749.1 418.5,747.0 425.5,738.2 433.5,736.3 440.5,746.3 447.5,735.0 455.5,733.4 462.5,733.1 469.5,729.3 477.5,730.2 484.5,733.4 492.5,726.8 499.5,720.6 506.5,709.5 514.5,707.0 521.5,690.0 528.5,694.2 536.5,708.3 543.5,701.4 550.5,702.3 558.5,711.7 565.5,713.2 573.5,716.5 580.5,704.6 587.5,705.5 595.5,695.3 602.5,694.4 609.5,694.4 617.5,695.7 624.5,700.4 632.5,696.1 639.5,699.5 646.5,691.4 654.5,687.8 661.5,684.4 668.5,685.3 676.5,686.3 683.5,682.5 690.5,681.0 698.5,682.5 705.5,688.1 713.5,691.9 720.5,700.4 727.5,694.2 735.5,692.3 742.5,695.7 749.5,697.6 757.5,706.5 764.5,723.4 772.5,674.9 779.5,685.3 786.5,698.9 794.5,720.6 801.5,709.5 808.5,708.3 816.5,715.5 823.5,709.5 830.5,711.4 838.5,710.4 845.5,714.2 853.5,710.2 860.5,723.4 867.5,722.5 875.5,726.5 882.5,763.7 889.5,777.2 897.5,778.4 904.5,782.0 912.5,769.3 919.5,781.2 926.5,777.4 934.5,752.7 941.5,756.1 948.5,754.2 956.5,758.4 963.5,747.2 970.5,750.4 978.5,728.2 985.5,729.1 993.5,725.0 1000.5,711.4 1007.5,713.2 1015.5,714.2 1022.5,712.3 1029.5,705.5 1037.5,715.5 1044.5,686.3 1052.5,658.3 1059.5,669.3 1066.5,680.2 1074.5,667.4 1081.5,674.4 1088.5,688.5 1096.5,683.8 1103.5,679.6 1110.5,709.9 1118.5,723.4 1125.5,721.6 1133.5,710.4 1140.5,720.6 1147.5,718.3 1155.5,701.7 1162.5,699.3 1169.5,707.6 1177.5,714.2 1184.5,712.3 1191.5,720.6 1199.5,709.5 1206.5,714.2 1214.5,708.3 1221.5,718.7 1228.5,716.5 1236.5,712.3 1243.5,717.0 1250.5,712.3 1258.5,713.2 1265.5,708.3 1273.5,712.7 1280.5,717.8 1287.5,715.9 1295.5,714.2 1302.5,725.9 1309.5,737.6 1317.5,721.6 1324.5,708.0 1331.5,711.4 1339.5,707.4 1346.5,703.6 1354.5,679.3 1361.5,679.3 1368.5,682.5 1376.5,682.5 1383.5,661.3 1390.5,665.5 1398.5,674.5 1405.5,688.1 1413.5,688.5 1420.5,690.4 1427.5,683.4 1435.5,706.1 1442.5,711.4 1449.5,726.8 1457.5,760.3 1464.5,738.2 1471.5,716.5 1479.5,702.3 1486.5,697.2 1494.5,692.3 1501.5,694.2 1508.5,675.9 1516.5,662.7 1523.5,654.2 1530.5,660.1 1538.5,643.9 1545.5,592.7 1553.5,551.8 1560.5,523.4 1567.5,571.1 1575.5,551.1 1582.5,553.0 1589.5,545.1 1597.5,482.0" fill="none" stroke="#3a3a3a" stroke-width="1" stroke-linejoin="round" shape-rendering="crispEdges"/>
<polyline points="0.0,680.6 18.9,682.5 37.8,681.9 94.4,681.2 113.3,679.6 141.6,676.8 169.9,674.5 188.8,673.4 220.9,673.4 245.4,676.8 273.7,680.0 292.6,682.5 303.2,682.5 337.2,689.1 384.4,703.2 422.2,710.2 459.9,714.9 497.7,717.8 535.4,718.9 573.2,721.2 590.0,721.6 614.0,722.5 655.5,722.5 712.2,718.3 768.8,714.6 806.5,709.9 844.3,707.0 874.5,705.1 907.8,708.9 945.5,712.3 983.3,716.5 1049.3,716.5 1077.7,714.2 1115.4,714.9 1170.0,717.4 1212.9,719.3 1226.1,720.2 1320.5,720.2 1348.8,715.5 1377.1,709.9 1409.2,703.6 1428.1,701.9 1456.6,702.3 1494.4,704.6 1524.6,704.6 1545.4,701.4 1569.9,692.9 1596.9,681.2" fill="none" stroke="#1c86e0" stroke-width="1.2" stroke-linejoin="round"/>
<rect x="0" y="459" width="1674" height="1" fill="#bbbbbb"/>
<rect x="0" y="788" width="1674" height="1" fill="#bbbbbb"/>
<rect x="1623" y="18" width="1" height="441" fill="#bbbbbb"/>
<rect x="1623" y="459" width="2" height="330" fill="#bbbbbb"/>
<rect x="1623" y="459" width="51" height="2" fill="#bbbbbb"/>
<rect x="1624" y="76" width="5" height="1" fill="#bbbbbb"/>
<rect x="1624" y="103" width="5" height="1" fill="#bbbbbb"/>
<rect x="1624" y="131" width="5" height="1" fill="#bbbbbb"/>
<rect x="1624" y="158" width="5" height="1" fill="#bbbbbb"/>
<rect x="1624" y="185" width="5" height="1" fill="#bbbbbb"/>
<rect x="1624" y="213" width="5" height="1" fill="#bbbbbb"/>
<rect x="1624" y="240" width="5" height="1" fill="#bbbbbb"/>
<rect x="1624" y="267" width="5" height="1" fill="#bbbbbb"/>
<rect x="1624" y="295" width="5" height="1" fill="#bbbbbb"/>
<rect x="1624" y="322" width="5" height="1" fill="#bbbbbb"/>
<rect x="1624" y="349" width="5" height="1" fill="#bbbbbb"/>
<rect x="1624" y="377" width="5" height="1" fill="#bbbbbb"/>
<rect x="1624" y="404" width="5" height="1" fill="#bbbbbb"/>
<rect x="1625" y="502" width="5" height="1" fill="#bbbbbb"/>
<rect x="1625" y="529" width="3" height="1" fill="#bbbbbb"/>
<rect x="1625" y="556" width="5" height="1" fill="#bbbbbb"/>
<rect x="1625" y="583" width="3" height="1" fill="#bbbbbb"/>
<rect x="1625" y="610" width="5" height="1" fill="#bbbbbb"/>
<rect x="1625" y="637" width="3" height="1" fill="#bbbbbb"/>
<rect x="1625" y="665" width="5" height="1" fill="#bbbbbb"/>
<rect x="1625" y="692" width="3" height="1" fill="#bbbbbb"/>
<rect x="1625" y="719" width="5" height="1" fill="#bbbbbb"/>
<rect x="1625" y="746" width="3" height="1" fill="#bbbbbb"/>
<polygon points="379.6,246.3 380.0,244.6 392.7,234.3 405.3,224.6 418.0,214.8 430.7,205.2 443.3,195.7 456.0,186.2 468.7,177.3 481.4,168.4 494.0,159.7 499.1,156.4 495.9,155.7 513.2,154.7 504.8,169.8 504.8,163.5 494.0,170.8 481.4,179.7 468.7,188.5 456.0,197.3 443.3,205.6 430.7,214.4 418.0,222.8 405.3,231.0 392.7,238.6 380.2,246.8" fill="#ff2010"/>
<polygon points="935.8,389.6 975.7,367.1 1017.6,343.7 1059.4,320.0 1080.3,308.1 1084.5,307.0 1081.7,306.2 1097.9,306.6 1087.9,320.2 1089.3,315.3 1059.4,330.0 1017.6,351.6 975.7,372.2 936.2,390.1" fill="#ff2010"/>
<polygon points="1481.0,425.3 1495.3,407.0 1508.0,392.4 1520.7,378.3 1533.4,364.3 1546.0,350.5 1558.7,336.8 1565.3,329.5 1578.0,314.5 1590.7,300.2 1603.4,285.7 1616.0,271.0 1618.6,267.9 1614.1,266.5 1631.5,261.7 1626.8,278.9 1625.2,275.5 1616.0,285.5 1603.4,299.4 1590.7,312.7 1578.0,326.0 1565.3,338.5 1558.7,343.9 1547.0,356.6 1534.6,369.3 1522.0,382.0 1509.2,395.3 1496.3,409.2 1482.0,425.8" fill="#ff2010"/>
<ellipse cx="369.6" cy="222.0" rx="17.1" ry="12.4" fill="none" stroke="#ff1a10" stroke-width="2.6"/>
<ellipse cx="922.0" cy="371.6" rx="14.6" ry="15.0" fill="none" stroke="#ff1a10" stroke-width="2.8"/>
<ellipse cx="1462.1" cy="433.2" rx="17.0" ry="12.8" fill="none" stroke="#ff1a10" stroke-width="2.8"/>
<ellipse cx="355.5" cy="759.9" rx="19.8" ry="16.8" fill="none" stroke="#ff1a10" stroke-width="2.8"/>
<ellipse cx="915.3" cy="774.0" rx="19.0" ry="12.8" fill="none" stroke="#ff1a10" stroke-width="2.8"/>
<ellipse cx="1459.0" cy="751.0" rx="18.5" ry="14.5" fill="none" stroke="#ff1a10" stroke-width="2.6"/>
<path d="M1457.5 439.5 H1469 M1457.5 439.5 l3 -2.5 M1457.5 439.5 l3 2.5" stroke="#333333" stroke-width="1" fill="none"/>
<path d="M259 450 L262 446.6 L265 450 Z" fill="#ff0000"/></svg>
<div class="t f12" style="left:-6px;top:2px;">时</div>
<div class="t f12" style="left:17.3px;top:2px;">1分钟</div>
<div class="t f12" style="left:56.3px;top:2px;">5分钟</div>
<div class="t f12" style="left:95.7px;top:2px;">15分钟</div>
<div class="t f12" style="left:141.3px;top:2px;">30分钟</div>
<div class="t f12" style="left:187.3px;top:2px;">60分钟</div>
<div class="t f12" style="left:234.0px;top:2px;color:#ff0000;">日线</div>
<div class="t f12" style="left:267.9px;top:2px;">周线</div>
<div class="t f12" style="left:302.2px;top:2px;">月线</div>
<div class="t f12" style="left:335.5px;top:2px;">多周期</div>
<div class="t f12" style="left:378px;top:2px;">更多</div>
<div class="t f12" style="left:405px;top:2px;">〉</div>
<div class="vl" style="left:0;top:18px;width:1674px;height:1px"></div>
<div class="vl" style="left:1393px;top:0;width:1px;height:18px"></div>
<div class="vl" style="left:1428px;top:0;width:1px;height:18px"></div>
<div class="vl" style="left:1463px;top:0;width:1px;height:18px"></div>
<div class="vl" style="left:1498px;top:0;width:1px;height:18px"></div>
<div class="vl" style="left:1533px;top:0;width:1px;height:18px"></div>
<div class="vl" style="left:1568px;top:0;width:1px;height:18px"></div>
<div class="vl" style="left:1603px;top:0;width:1px;height:18px"></div>
<div class="vl" style="left:1638px;top:0;width:1px;height:18px"></div>
<div class="t f12" style="left:1394px;top:2px;width:34px;text-align:center;">复权</div>
<div class="t f12" style="left:1429px;top:2px;width:34px;text-align:center;">叠加</div>
<div class="t f12" style="left:1464px;top:2px;width:34px;text-align:center;">统计</div>
<div class="t f12" style="left:1499px;top:2px;width:34px;text-align:center;">画线</div>
<div class="t f12" style="left:1534px;top:2px;width:34px;text-align:center;">F10</div>
<div class="t f12" style="left:1569px;top:2px;width:34px;text-align:center;">标记</div>
<div class="t f12" style="left:1604px;top:2px;width:34px;text-align:center;">+自选</div>
<div class="t f12" style="left:1639px;top:2px;width:34px;text-align:center;">返回</div>
<div class="t f12" style="left:-7px;top:22px;">欧股份</div>
<div class="t f12" style="left:34.5px;top:22px;">(日线)</div>
<svg style="position:absolute;left:71px;top:22px" width="12" height="12" viewBox="0 0 12 12"><circle cx="6" cy="6" r="5.9" fill="#777"/><path d="M3.2 4.8 L6 7.6 L8.8 4.8" stroke="#fff" stroke-width="1.3" fill="none"/></svg>
<div class="t f12" style="left:87.6px;top:22px;color:#333;letter-spacing:0.3px">MA60: 1.55</div>
<div class="t f12" style="left:157.7px;top:22px;color:#1c86e0;letter-spacing:0.3px">MA60: 1.55</div>
<div class="t f12" style="left:227.3px;top:22px;color:#8b008b;letter-spacing:0.3px">MA60: 1.55</div>
<div class="t f12" style="left:297.2px;top:22px;color:#888;letter-spacing:0.3px">MA60: 1.55</div>
<div class="t f12" style="left:-2px;top:41.5px;color:#444;font-size:12.3px">2.73</div>
<div class="t f12" style="left:1471px;top:434px;color:#444">1.27</div>
<svg style="position:absolute;left:1589px;top:22px" width="32" height="13" viewBox="0 0 32 13"><path d="M1.5 6.5 L6.5 1.5 L11.5 6.5 L6.5 11.5 Z" fill="none" stroke="#444" stroke-width="1"/><rect x="19.5" y="1.5" width="11" height="10" rx="2" fill="none" stroke="#444" stroke-width="1"/><rect x="26" y="3" width="3" height="7" fill="#444"/></svg>
<div class="ic" style="left:765px;top:445px;background:#8a3c00;">榜</div>
<div class="ic" style="left:963px;top:445px;background:#002f6c;">财</div>
<div class="ic" style="left:1370px;top:445px;background:#008000;">减</div>
<div class="ic" style="left:1451px;top:445px;background:#b84800;">预</div>
<div class="t f12" style="left:258.5px;top:450.4px;color:#ff0000;font-weight:bold;font-size:10px">S</div>
<div class="t f12" style="right:208px;top:70px;color:#8a8a92">2.60</div>
<div class="t f12" style="right:208px;top:98px;color:#8a8a92">2.50</div>
<div class="t f12" style="right:208px;top:125px;color:#8a8a92">2.40</div>
<div class="t f12" style="right:208px;top:152px;color:#8a8a92">2.30</div>
<div class="t f12" style="right:208px;top:180px;color:#8a8a92">2.20</div>
<div class="t f12" style="right:208px;top:207px;color:#8a8a92">2.10</div>
<div class="t f12" style="right:208px;top:234px;color:#8a8a92">2.00</div>
<div class="t f12" style="right:208px;top:262px;color:#8a8a92">1.90</div>
<div class="t f12" style="right:208px;top:289px;color:#8a8a92">1.80</div>
<div class="t f12" style="right:208px;top:316px;color:#8a8a92">1.70</div>
<div class="t f12" style="right:208px;top:344px;color:#8a8a92">1.60</div>
<div class="t f12" style="right:208px;top:371px;color:#8a8a92">1.50</div>
<div class="t f12" style="right:208px;top:398px;color:#8a8a92">1.40</div>
<div class="t f12" style="right:208px;top:497px;color:#8a8a92">30.00</div>
<div class="t f12" style="right:208px;top:551px;color:#8a8a92">20.00</div>
<div class="t f12" style="right:208px;top:605px;color:#8a8a92">10.00</div>
<div class="t f12" style="right:208px;top:660px;color:#8a8a92">0.00</div>
<div class="t f12" style="right:208px;top:714px;color:#8a8a92">-10.00</div>
<div class="t f12" style="left:-0.4px;top:461.5px;">BIAS-QL(60,60)</div>
<div class="t f12" style="left:90.7px;top:461.5px;">BIAS: 33.78</div>
<div class="t f12" style="left:160.7px;top:461.5px;color:#1c86e0;letter-spacing:0.25px">BIASMA: -2.90</div>
<div class="vl" style="left:1674px;top:0;width:1px;height:460px"></div>
<div class="vl" style="left:1673px;top:459px;width:2px;height:330px"></div>
<div class="vl" style="left:1675px;top:23px;width:202px;height:1px"></div>
<div class="vl" style="left:1675px;top:44px;width:202px;height:1px"></div>
<div class="vl" style="left:1675px;top:141px;width:202px;height:1px"></div>
<div class="vl" style="left:1675px;top:238px;width:202px;height:1px"></div>
<div class="vl" style="left:1675px;top:335px;width:202px;height:1px"></div>
<div class="vl" style="left:1675px;top:395px;width:202px;height:1px"></div>
<div class="vl" style="left:1675px;top:438px;width:202px;height:1px"></div>
<div class="t " style="left:1696.5px;top:4px;font-size:15.5px;color:#ff3232">L</div>
<div class="t " style="left:1710.8px;top:12px;font-size:10px;color:#ff3232;letter-spacing:-0.4px">500</div>
<div class="t " style="left:1725.5px;top:2px;font-size:16.5px;color:#333">002131</div>
<div class="t " style="left:1783.6px;top:3px;font-size:15px;color:#333">利欧股份</div>
<div class="t f14" style="left:1677px;top:27px;">委比</div>
<div class="t f14 r" style="right:93.5px;top:27px;">100.00%</div>
<div class="t f14 " style="left:1789px;top:27px;">委差</div>
<div class="t f14 r" style="left:1855.5px;top:27px;">96.7</div>
<div class="t f14" style="left:1677px;top:48px;">卖五</div>
<div class="t f14" style="left:1677px;top:67px;">卖四</div>
<div class="t f14" style="left:1677px;top:86px;">卖三</div>
<div class="t f14" style="left:1677px;top:105px;">卖二</div>
<div class="t f14" style="left:1677px;top:124px;">卖一</div>
<div class="t f14" style="left:1677px;top:145px;">买一</div>
<div class="t f14 r" style="right:93.5px;top:145px;">2.07</div>
<div class="t f14 num" style="right:29px;top:145px;">884706</div>
<div class="t f14" style="left:1677px;top:164px;">买二</div>
<div class="t f14 r" style="right:93.5px;top:164px;">2.06</div>
<div class="t f14 num" style="right:29px;top:164px;">16074</div>
<div class="t f14" style="left:1677px;top:183px;">买三</div>
<div class="t f14 r" style="right:93.5px;top:183px;">2.05</div>
<div class="t f14 num" style="right:29px;top:183px;">22367</div>
<div class="t f14" style="left:1677px;top:202px;">买四</div>
<div class="t f14 r" style="right:93.5px;top:202px;">2.04</div>
<div class="t f14 num" style="right:29px;top:202px;">24766</div>
<div class="t f14" style="left:1677px;top:221px;">买五</div>
<div class="t f14 r" style="right:93.5px;top:221px;">2.03</div>
<div class="t f14 num" style="right:29px;top:221px;">19447</div>
<div class="t f14" style="left:1677px;top:242px;">现价</div>
<div class="t f14 r" style="right:93.5px;top:242px;">2.07</div>
<div class="t f14 " style="left:1789px;top:242px;">今开</div>
<div class="t f14 r" style="left:1868.5px;top:242px;">1.96</div>
<div class="t f14" style="left:1677px;top:260px;">涨跌</div>
<div class="t f14 r" style="right:93.5px;top:260px;">0.19</div>
<div class="t f14 " style="left:1789px;top:260px;">最高</div>
<div class="t f14 r" style="left:1869.5px;top:260px;">2.07</div>
<div style="position:absolute;left:1867px;top:259px;width:20px;height:17px;border:1px solid #bbb;box-sizing:border-box"></div>
<div class="t f14" style="left:1677px;top:280px;">涨幅</div>
<div class="t f14 r" style="right:93.5px;top:280px;">10.11%</div>
<div class="t f14 " style="left:1789px;top:280px;">最低</div>
<div class="t f14 num" style="left:1868.5px;top:280px;">1.88</div>
<div class="t f14" style="left:1677px;top:298px;">总量</div>
<div class="t f14 num" style="right:93.5px;top:298px;">450.9万</div>
<div class="t f14 " style="left:1789px;top:298px;">量比</div>
<div class="t f14 r" style="left:1868.5px;top:298px;">1.52</div>
<div class="t f14" style="left:1677px;top:318px;">外盘</div>
<div class="t f14 r" style="right:93.5px;top:318px;">224.5万</div>
<div class="t f14 " style="left:1789px;top:318px;">内盘</div>
<div class="t f14 g" style="left:1847.5px;top:318px;">226.5万</div>
<div class="t f14" style="left:1677px;top:338px;">换手</div>
<div class="t f14 num" style="right:93.5px;top:338px;">11.61%</div>
<div class="t f14 " style="left:1789px;top:338px;">股本</div>
<div class="t f14 num" style="left:1856px;top:338px;">60.6亿</div>
<div class="t f14" style="left:1677px;top:358px;">净资</div>
<div class="t f14 num" style="right:93.5px;top:358px;">1.50</div>
<div class="t f14 " style="left:1789px;top:358px;">流通</div>
<div class="t f14 num" style="left:1856px;top:358px;">38.8亿</div>
<div class="t f14" style="left:1677px;top:376px;">收益㈢</div>
<div class="t f14 num" style="right:93.5px;top:376px;">0.050</div>
<div class="t f14 " style="left:1789px;top:376px;">PE(动)</div>
<div class="t f14 num" style="left:1869px;top:376px;">35.2</div>
<div class="t f14" style="left:1677px;top:400px;">净流入额</div>
<div class="t f14 g" style="right:21.5px;top:400px;">-2403万</div>
<div class="t f14 g" style="left:1872px;top:400px;">-12%</div>
<div class="t f14" style="left:1677px;top:419px;">大宗流入</div>
<div class="t f14 r" style="right:21.5px;top:419px;">1431万</div>
<div class="t f14 r" style="left:1875px;top:419px;">7%</div>
<div class="t f14" style="left:1677px;top:441px;color:#333">13:26</div>
<div class="t f14 r" style="right:96.5px;top:441px;">2.07</div>
<div class="t f14 num" style="right:33px;top:441px;">200</div>
<div class="t f14 g" style="left:1856.5px;top:441px;">S</div>
<div class="t f14" style="left:1677px;top:459px;color:#333">13:26</div>
<div class="t f14 r" style="right:96.5px;top:459px;">2.07</div>
<div class="t f14 num" style="right:33px;top:459px;">29</div>
<div class="t f14 g" style="left:1856.5px;top:459px;">S</div>
<div class="t f14" style="left:1677px;top:477px;color:#333">13:26</div>
<div class="t f14 r" style="right:96.5px;top:477px;">2.07</div>
<div class="t f14 num" style="right:33px;top:477px;">10</div>
<div class="t f14 g" style="left:1856.5px;top:477px;">S</div>
<div class="t f14" style="left:1677px;top:495px;color:#333">13:26</div>
<div class="t f14 r" style="right:96.5px;top:495px;">2.07</div>
<div class="t f14 num" style="right:33px;top:495px;">5</div>
<div class="t f14 g" style="left:1856.5px;top:495px;">S</div>
<div class="t f14" style="left:1677px;top:513px;color:#333">13:26</div>
<div class="t f14 r" style="right:96.5px;top:513px;">2.07</div>
<div class="t f14 num" style="right:33px;top:513px;">67</div>
<div class="t f14 g" style="left:1856.5px;top:513px;">S</div>
<div class="t f14" style="left:1677px;top:531px;color:#333">13:26</div>
<div class="t f14 r" style="right:96.5px;top:531px;">2.07</div>
<div class="t f14 num" style="right:33px;top:531px;">20</div>
<div class="t f14 g" style="left:1856.5px;top:531px;">S</div>
<div class="t f14" style="left:1677px;top:549px;color:#333">13:26</div>
<div class="t f14 r" style="right:96.5px;top:549px;">2.07</div>
<div class="t f14 num" style="right:33px;top:549px;">30</div>
<div class="t f14 g" style="left:1856.5px;top:549px;">S</div>
<div class="t f14" style="left:1677px;top:567px;color:#333">13:26</div>
<div class="t f14 r" style="right:96.5px;top:567px;">2.07</div>
<div class="t f14 num" style="right:33px;top:567px;">11</div>
<div class="t f14 g" style="left:1856.5px;top:567px;">S</div>
<div class="t f14" style="left:1677px;top:585px;color:#333">13:26</div>
<div class="t f14 r" style="right:96.5px;top:585px;">2.07</div>
<div class="t f14 num" style="right:33px;top:585px;">66</div>
<div class="t f14 g" style="left:1856.5px;top:585px;">S</div>
<div class="t f14" style="left:1677px;top:603px;color:#333">13:26</div>
<div class="t f14 r" style="right:96.5px;top:603px;">2.07</div>
<div class="t f14 num" style="right:33px;top:603px;">2</div>
<div class="t f14 g" style="left:1856.5px;top:603px;">S</div>
<div class="t f14" style="left:1677px;top:621px;color:#333">13:27</div>
<div class="t f14 r" style="right:96.5px;top:621px;">2.07</div>
<div class="t f14 num" style="right:33px;top:621px;">1</div>
<div class="t f14 g" style="left:1856.5px;top:621px;">S</div>
<div class="t f14" style="left:1677px;top:639px;color:#333">13:27</div>
<div class="t f14 r" style="right:96.5px;top:639px;">2.07</div>
<div class="t f14 num" style="right:33px;top:639px;">149</div>
<div class="t f14 g" style="left:1856.5px;top:639px;">S</div>
<div class="t f14" style="left:1677px;top:657px;color:#333">13:27</div>
<div class="t f14 r" style="right:96.5px;top:657px;">2.07</div>
<div class="t f14 num" style="right:33px;top:657px;">3</div>
<div class="t f14 g" style="left:1856.5px;top:657px;">S</div>
<div class="t f14" style="left:1677px;top:675px;color:#333">13:27</div>
<div class="t f14 r" style="right:96.5px;top:675px;">2.07</div>
<div class="t f14 num" style="right:33px;top:675px;">1</div>
<div class="t f14 g" style="left:1856.5px;top:675px;">S</div>
<div class="t f14" style="left:1677px;top:693px;color:#333">13:27</div>
<div class="t f14 r" style="right:96.5px;top:693px;">2.07</div>
<div class="t f14 num" style="right:33px;top:693px;">9</div>
<div class="t f14 g" style="left:1856.5px;top:693px;">S</div>
<div class="t f14" style="left:1677px;top:711px;color:#333">13:27</div>
<div class="t f14 r" style="right:96.5px;top:711px;">2.07</div>
<div class="t f14 b" style="right:33px;top:711px;">1000</div>
<div class="t f14 g" style="left:1856.5px;top:711px;">S</div>
<div class="t f14" style="left:1677px;top:729px;color:#333">13:27</div>
<div class="t f14 r" style="right:96.5px;top:729px;">2.07</div>
<div class="t f14 num" style="right:33px;top:729px;">75</div>
<div class="t f14 g" style="left:1856.5px;top:729px;">S</div>
<div class="t f14" style="left:1677px;top:747px;color:#333">13:27</div>
<div class="t f14 r" style="right:96.5px;top:747px;">2.07</div>
<div class="t f14 num" style="right:33px;top:747px;">36</div>
<div class="t f14 g" style="left:1856.5px;top:747px;">S</div>
<div class="t f14" style="left:1677px;top:765px;color:#333">13:27</div>
<div class="t f14 r" style="right:96.5px;top:765px;">2.07</div>
<div class="t f14 num" style="right:33px;top:765px;">11</div>
<div class="t f14 g" style="left:1856.5px;top:765px;">S</div>
<div class="t f14" style="left:1677px;top:783px;color:#333">13:27</div>
<div class="t f14 r" style="right:96.5px;top:783px;">2.07</div>
<div class="t f14 num" style="right:33px;top:783px;">4</div>
<div class="t f14 g" style="left:1856.5px;top:783px;">S</div>
<div class="t" style="left:1461px;top:714.5px;font-size:46px;font-weight:500;color:#fcfcfc;text-shadow:0 0 1px #fcfcfc,2px 2px 1px #000,2.5px 2.5px 0 #000;font-family:'Liberation Sans','Noto Sans CJK SC',sans-serif;line-height:1">头条</div>
<div class="t" style="left:1560px;top:711.5px;font-size:46px;font-weight:500;color:#fcfcfc;text-shadow:0 0 1px #fcfcfc,2px 2px 1px #000,2.5px 2.5px 0 #000;font-family:'Liberation Sans','Noto Sans CJK SC',sans-serif;line-height:1;font-size:57px">@</div>
<div class="t" style="left:1614.5px;top:716.5px;font-size:46px;font-weight:500;color:#fcfcfc;text-shadow:0 0 1px #fcfcfc,2px 2px 1px #000,2.5px 2.5px 0 #000;font-family:'Liberation Sans','Noto Sans CJK SC',sans-serif;line-height:1;letter-spacing:1.5px">陆家嘴谷神</div>
</body></html>
